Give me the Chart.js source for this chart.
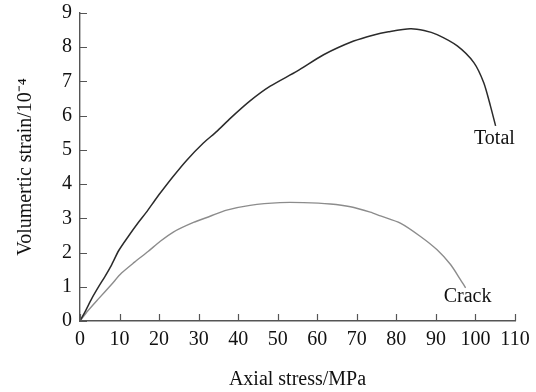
<!DOCTYPE html>
<html>
<head>
<meta charset="utf-8">
<script src="https://cdn.jsdelivr.net/npm/chart.js@4"></script>
<style>
html,body{margin:0;padding:0;background:#fff;}
#wrap{width:536px;height:392px;position:relative;}
</style>
</head>
<body>
<div id="wrap"><canvas id="c" width="536" height="392"></canvas></div>
<script>
// Axial stress (MPa) and volumetric strain (1e-4)
const stressTotal = [0, 1.5, 2.9, 4.6, 6.3, 7.9, 9.8, 12.2, 14.7, 16.8, 18.9, 20.3, 23.6, 27, 31.2, 34.6, 38, 43, 48.1, 54.9, 61.6, 69.2, 74.3, 78, 83.5, 87, 90.3, 95.4, 99.6, 102.1, 103.8, 105.1];
const strainTotal = [0, 0.32, 0.64, 0.98, 1.3, 1.62, 2.06, 2.47, 2.87, 3.18, 3.52, 3.74, 4.23, 4.7, 5.2, 5.54, 5.92, 6.43, 6.86, 7.3, 7.78, 8.18, 8.36, 8.45, 8.54, 8.49, 8.37, 8.04, 7.55, 6.96, 6.28, 5.7];
const stressCrack = [0, 2, 4.6, 7.9, 10.5, 13.8, 17.2, 20.3, 23.6, 28.7, 32.9, 37.1, 43, 50.6, 56.5, 63.3, 68.4, 73.4, 76, 81, 86.1, 90.3, 93.7, 96.2, 97.5];
const strainCrack = [0, 0.3, 0.64, 1.06, 1.4, 1.72, 2.03, 2.33, 2.6, 2.88, 3.06, 3.24, 3.38, 3.46, 3.46, 3.42, 3.34, 3.18, 3.07, 2.86, 2.47, 2.08, 1.65, 1.21, 0.97];
const seriesNames = ["Total", "Crack"];
const xTitle = "Axial stress/MPa";
const yTitle = "Volumertic strain/10\u207B\u2074";

const toPts = (xs, ys) => xs.map((x, i) => ({x: x, y: ys[i]}));
// label anchors in data coordinates
const curveLabels = [
  {text: seriesNames[0], x: 104.8, y: 5.33},
  {text: seriesNames[1], x: 98.0, y: 0.71}
];

const FONT = "'Liberation Serif', 'Times New Roman', serif";

const labelPlugin = {
  id: 'curveLabels',
  afterDatasetsDraw(chart) {
    const ctx = chart.ctx;
    const xs = chart.scales.x, ys = chart.scales.y;
    ctx.save();
    ctx.font = "20px " + FONT;
    ctx.fillStyle = "#111";
    ctx.textAlign = "center";
    ctx.textBaseline = "middle";
    curveLabels.forEach(l => {
      ctx.fillText(l.text, xs.getPixelForValue(l.x), ys.getPixelForValue(l.y));
    });
    ctx.restore();
  }
};

// inward tick marks placed by the scales
const innerTicks = {
  id: 'innerTicks',
  afterDraw(chart) {
    const ctx = chart.ctx;
    const xs = chart.scales.x, ys = chart.scales.y;
    const a = chart.chartArea;
    ctx.save();
    ctx.strokeStyle = '#555';
    ctx.lineWidth = 1.2;
    ctx.beginPath();
    xs.ticks.forEach(t => {
      const px = Math.round(xs.getPixelForValue(t.value)) + 0.5;
      ctx.moveTo(px, a.bottom);
      ctx.lineTo(px, a.bottom - 7);
    });
    ys.ticks.forEach(t => {
      const py = Math.round(ys.getPixelForValue(t.value)) + 0.5;
      ctx.moveTo(a.left, py);
      ctx.lineTo(a.left + 7, py);
    });
    ctx.stroke();
    ctx.restore();
  }
};

new Chart(document.getElementById('c'), {
  type: 'line',
  data: {
    datasets: [
      {label: seriesNames[0], data: toPts(stressTotal, strainTotal), borderColor: '#2b2b2b', borderWidth: 1.5, pointRadius: 0, tension: 0.25, fill: false},
      {label: seriesNames[1], data: toPts(stressCrack, strainCrack), borderColor: '#8c8c8c', borderWidth: 1.4, pointRadius: 0, tension: 0.25, fill: false}
    ]
  },
  options: {
    responsive: false,
    animation: false,
    devicePixelRatio: 1,
    layout: {padding: {left: 0, right: 21, top: 13, bottom: 0}},
    plugins: {legend: {display: false}, tooltip: {enabled: false}},
    scales: {
      x: {
        type: 'linear', min: 0, max: 110,
        ticks: {stepSize: 10, color: '#111', font: {family: FONT, size: 20}, padding: 7, maxRotation: 0, autoSkip: false},
        grid: {display: true, drawOnChartArea: false, drawTicks: false, tickLength: 0},
        border: {display: true, color: '#555', width: 1.4},
        title: {display: true, text: xTitle, color: '#111', font: {family: FONT, size: 20}, padding: {top: 0, bottom: 0}},
        afterFit(s) { s.height = 71; s.paddingLeft = 0; s.paddingRight = 0; }
      },
      y: {
        type: 'linear', min: 0, max: 9,
        ticks: {stepSize: 1, color: '#111', font: {family: FONT, size: 20}, padding: 8},
        grid: {display: true, drawOnChartArea: false, drawTicks: false, tickLength: 0},
        border: {display: true, color: '#555', width: 1.4},
        title: {display: true, text: yTitle, color: '#111', font: {family: FONT, size: 20}, padding: {top: 14, bottom: 0}},
        afterFit(s) { s.width = 80; s.paddingTop = 0; s.paddingBottom = 0; }
      }
    }
  },
  plugins: [labelPlugin, innerTicks]
});
</script>
</body>
</html>
